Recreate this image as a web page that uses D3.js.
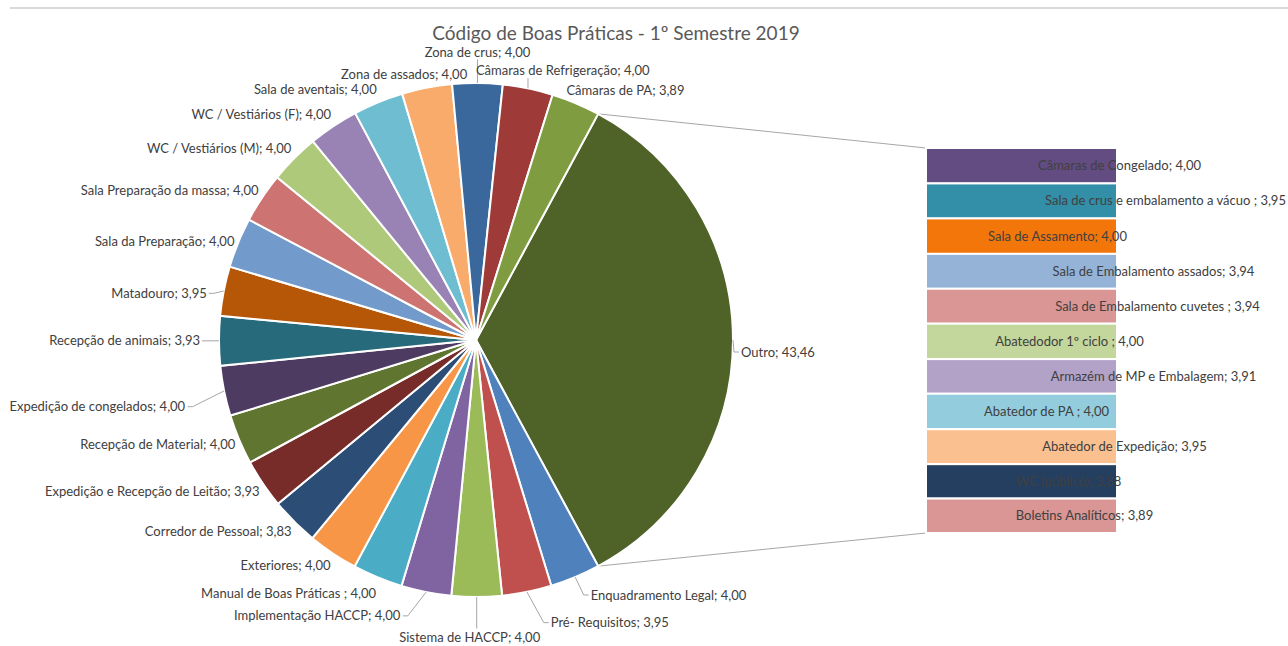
<!DOCTYPE html>
<html>
<head>
<meta charset="utf-8">
<script src="https://cdn.jsdelivr.net/npm/d3@7"></script>
<style>
  body { margin: 0; background: #fff; }
  text { font-family: Lato, "Open Sans", sans-serif; fill: #404040; }
</style>
</head>
<body>
<div class="chart"></div>
<script>
// main pie (first slice is the "Outro" group shown in the bar on the right)
var pieNames = ["Outro", "Enquadramento Legal", "Pré- Requisitos", "Sistema de HACCP",
  "Implementação HACCP", "Manual de Boas Práticas ", "Exteriores", "Corredor de Pessoal",
  "Expedição e Recepção de Leitão", "Recepção de Material", "Expedição de congelados",
  "Recepção de animais", "Matadouro", "Sala da Preparação", "Sala Preparação da massa",
  "WC / Vestiários (M)", "WC / Vestiários (F)", "Sala de aventais", "Zona de assados",
  "Zona de crus", "Câmaras de Refrigeração", "Câmaras de PA"];
var pieValues = [43.46, 4.00, 3.95, 4.00, 4.00, 4.00, 4.00, 3.83, 3.93, 4.00, 4.00,
  3.93, 3.95, 4.00, 4.00, 4.00, 4.00, 4.00, 4.00, 4.00, 4.00, 3.89];
var pieColors = ["#4F6228", "#4F81BD", "#C0504D", "#9BBB59", "#8064A2", "#4BACC6",
  "#F79646", "#2C4D75", "#772C2A", "#5F7530", "#4D3B62", "#276A7C", "#B65708",
  "#729ACA", "#CD7371", "#AFC97A", "#9983B5", "#6FBDD1", "#F9AB6B", "#3A679C",
  "#9E3B38", "#7F9D40"];

// secondary bar (breakdown of "Outro")
var barNames = ["Câmaras de Congelado", "Sala de crus e embalamento a vácuo ", "Sala de Assamento",
  "Sala de Embalamento assados", "Sala de Embalamento cuvetes ", "Abatedodor 1º ciclo ",
  "Armazém de MP e Embalagem", "Abatedor de PA ", "Abatedor de Expedição", "WC (público)",
  "Boletins Analíticos"];
var barValues = [4.00, 3.95, 4.00, 3.94, 3.94, 4.00, 3.91, 4.00, 3.95, 3.88, 3.89];
var barColors = ["#634C82", "#338EA7", "#F3760B", "#95B3D7", "#D99694", "#C3D69B",
  "#B3A2C7", "#93CDDD", "#FAC090", "#243F60", "#D99694"];

// label placement tweaks (Excel moved some labels out and gave them leader lines)
var labelNudge = {
  "Outro": {dx: 4, dy: 12, leader: true},
  "Enquadramento Legal": {dx: 14, dy: 5, leader: true},
  "Pré- Requisitos": {dx: 23, dy: 17, anchor: "start", leader: true},
  "Sistema de HACCP": {dx: -7, dy: 26, leader: true},
  "Implementação HACCP": {dx: -25, dy: 10, anchor: "end", leader: true},
  "Manual de Boas Práticas ": {dy: 3},
  "Sala da Preparação": {dy: 4},
  "Expedição de congelados": {dx: -35, dy: 13, leader: true},
  "Recepção de animais": {dx: -15, leader: true},
  "Matadouro": {dx: -13, dy: 5, leader: true},
  "Zona de assados": {dx: -22},
  "Zona de crus": {dy: -17, leader: true},
  "Câmaras de Refrigeração": {dx: 34, dy: -4, leader: true},
  "Câmaras de PA": {dx: -11}
};
var barLabelShift = [98, 144, 36, 132, 136, 48, 132, 25, 103, 47, 63];

var width = 1288, height = 646;
var cx = 476, cy = 340, radius = 257;
var barX = 926, barW = 191;

var fmt = function(v) { return d3.format(".2f")(v).replace(".", ","); };

var svg = d3.select(".chart")
  .append("svg")
    .attr("width", width)
    .attr("height", height);

// top border line of the chart area
svg.append("line")
  .attr("x1", 10).attr("x2", width)
  .attr("y1", 8).attr("y2", 8)
  .attr("stroke", "#D9D9D9")
  .attr("stroke-width", 2);

svg.append("text")
  .attr("x", 616)
  .attr("y", 33)
  .attr("dy", "0.35em")
  .attr("text-anchor", "middle")
  .style("font-size", "19px")
  .style("fill", "#595959")
  .text("Código de Boas Práticas - 1º Semestre 2019");

// pie, with "Outro" centred on the right side
var total = d3.sum(pieValues);
var a0 = Math.PI / 2 - Math.PI * pieValues[0] / total;
var pie = d3.pie()
  .sort(null)
  .value(function(d) { return d; })
  .startAngle(a0)
  .endAngle(a0 + 2 * Math.PI);
var arcs = pie(pieValues);

var arc = d3.arc().innerRadius(0).outerRadius(radius);

function pt(angle, r) {
  return [cx + r * Math.sin(angle), cy - r * Math.cos(angle)];
}

var g = svg.append("g");

// connector lines between the "Outro" slice and the bar
var yBar = d3.scaleLinear()
  .domain([0, d3.sum(barValues)])
  .range([148, 533]);
var pStart = pt(arcs[0].startAngle, radius), pEnd = pt(arcs[0].endAngle, radius);
g.append("line")
  .attr("x1", pStart[0]).attr("y1", pStart[1])
  .attr("x2", barX).attr("y2", yBar(0))
  .attr("stroke", "#A6A6A6").attr("stroke-width", 1);
g.append("line")
  .attr("x1", pEnd[0]).attr("y1", pEnd[1])
  .attr("x2", barX).attr("y2", yBar(d3.sum(barValues)))
  .attr("stroke", "#A6A6A6").attr("stroke-width", 1);

g.append("g")
    .attr("transform", "translate(" + cx + "," + cy + ")")
  .selectAll("path")
  .data(arcs)
  .join("path")
    .attr("d", arc)
    .attr("fill", function(d, i) { return pieColors[i]; })
    .attr("stroke", "#fff")
    .attr("stroke-width", 2);

// pie labels
var labels = g.append("g");
arcs.forEach(function(d, i) {
  var name = pieNames[i];
  var mid = (d.startAngle + d.endAngle) / 2;
  var s = Math.sin(mid), c = Math.cos(mid);
  var a = pt(mid, radius + 4);
  var n = labelNudge[name] || {};
  var anchor = n.anchor || (s < -0.25 ? "end" : s > 0.25 ? "start" : "middle");
  var lx = a[0] + (n.dx || 0);
  var ly = a[1] - c * 10 + (n.dy || 0);
  var t = labels.append("text")
    .attr("x", lx)
    .attr("y", ly)
    .attr("dy", "0.35em")
    .attr("text-anchor", anchor)
    .style("font-size", "13px")
    .text(name + "; " + fmt(pieValues[i]));

  if (n.leader) {
    var bb = t.node().getBBox();
    var p = pt(mid, radius);
    var pts;
    if (p[0] >= bb.x && p[0] <= bb.x + bb.width) {
      var yEdge = p[1] < bb.y ? bb.y : bb.y + bb.height;
      pts = [p, [p[0], yEdge]];
    } else if (p[0] > bb.x + bb.width) {
      var qx = bb.x + bb.width + 2;
      pts = [p, [qx + 5, ly], [qx, ly]];
    } else {
      var qx2 = bb.x - 2;
      pts = [p, [qx2 - 5, ly], [qx2, ly]];
    }
    labels.append("path")
      .attr("d", d3.line()(pts))
      .attr("fill", "none")
      .attr("stroke", "#A6A6A6")
      .attr("stroke-width", 1);
  }
});

// stacked bar
var cum = 0;
var stack = barValues.map(function(v) { var r = [cum, cum + v]; cum += v; return r; });

g.append("g").selectAll("rect")
  .data(stack)
  .join("rect")
    .attr("x", barX)
    .attr("y", function(d) { return yBar(d[0]); })
    .attr("width", barW)
    .attr("height", function(d) { return yBar(d[1]) - yBar(d[0]); })
    .attr("fill", function(d, i) { return barColors[i]; })
    .attr("stroke", "#fff")
    .attr("stroke-width", 2);

g.append("g").selectAll("text")
  .data(stack)
  .join("text")
    .attr("x", function(d, i) { return barX + barW / 2 + barLabelShift[i]; })
    .attr("y", function(d) { return (yBar(d[0]) + yBar(d[1])) / 2; })
    .attr("dy", "0.35em")
    .attr("text-anchor", "middle")
    .style("font-size", "13px")
    .text(function(d, i) { return barNames[i] + "; " + fmt(barValues[i]); });
</script>
</body>
</html>
